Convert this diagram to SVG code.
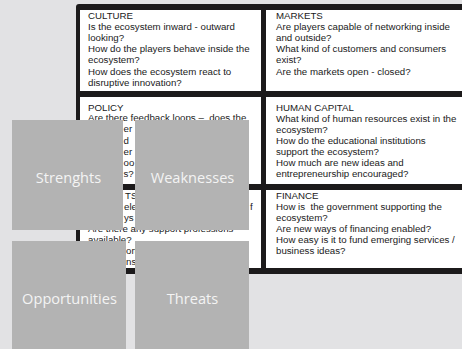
<svg xmlns="http://www.w3.org/2000/svg" width="462" height="349" viewBox="0 0 462 349">
<style>
.t{font-family:"Liberation Sans",Arial,sans-serif;font-size:9.7px;fill:#1a1a1a}
.cell{fill:#ffffff}
.sq{fill:#b3b3b3}
.lbl{font-family:"Open Sans","Noto Sans",sans-serif;font-size:14.6px;fill:#f4f4f4;text-anchor:middle}
</style>
<rect x="0" y="0" width="462" height="349" fill="#e2e2e4"/>
<rect x="76" y="4" width="400" height="270" rx="3" fill="#1c1a1b"/>
<g id="culture">
<rect class="cell" x="80" y="10" width="181" height="81"/>
<text class="t" x="88" y="19">CULTURE</text>
<text class="t" x="88" y="30.1">Is the ecosystem inward - outward</text>
<text class="t" x="88" y="41.2">looking?</text>
<text class="t" x="88" y="52.3">How do the players behave inside the</text>
<text class="t" x="88" y="63.4">ecosystem?</text>
<text class="t" x="88" y="74.5">How does the ecosystem react to</text>
<text class="t" x="88" y="85.6">disruptive innovation?</text>
</g>
<g id="markets">
<rect class="cell" x="266" y="10" width="196" height="81"/>
<text class="t" x="276" y="19">MARKETS</text>
<text class="t" x="276" y="30.1">Are players capable of networking inside</text>
<text class="t" x="276" y="41.2">and outside?</text>
<text class="t" x="276" y="52.3">What kind of customers and consumers</text>
<text class="t" x="276" y="63.4">exist?</text>
<text class="t" x="276" y="74.5">Are the markets open - closed?</text>
</g>
<g id="policy">
<rect class="cell" x="80" y="97" width="181" height="87"/>
<text class="t" x="88" y="110.7">POLICY</text>
<text class="t" x="88" y="121.3">Are there feedback loops –&#160; does the</text>
<text class="t" x="123.5" y="132.4">er</text>
<text class="t" x="123.5" y="143.5">d</text>
<text class="t" x="123.5" y="154.6">er</text>
<text class="t" x="123.5" y="165.7">oo</text>
<text class="t" x="123.5" y="176.8">s?</text>
</g>
<g id="human-capital">
<rect class="cell" x="266" y="97" width="196" height="87"/>
<text class="t" x="276" y="110.7">HUMAN CAPITAL</text>
<text class="t" x="276" y="121.8">What kind of human resources exist in the</text>
<text class="t" x="276" y="132.9">ecosystem?</text>
<text class="t" x="276" y="144">How do the educational institutions</text>
<text class="t" x="276" y="155.1">support the ecosystem?</text>
<text class="t" x="276" y="166.2">How much are new ideas and</text>
<text class="t" x="276" y="177.3">entrepreneurship encouraged?</text>
</g>
<g id="support">
<rect class="cell" x="80" y="190" width="181" height="78"/>
<text class="t" x="125" y="199">TS</text>
<text class="t" x="124" y="210">ele</text>
<text class="t" x="250" y="210">f</text>
<text class="t" x="124" y="221">ys</text>
<text class="t" x="88" y="232">Are there any support professions</text>
<text class="t" x="88" y="243">available?</text>
<text class="t" x="126" y="254">ort</text>
<text class="t" x="126" y="265">ns</text>
</g>
<g id="finance">
<rect class="cell" x="266" y="190" width="196" height="78"/>
<text class="t" x="276" y="198.5">FINANCE</text>
<text class="t" x="276" y="209.6">How is&#160; the government supporting the</text>
<text class="t" x="276" y="220.7">ecosystem?</text>
<text class="t" x="276" y="231.8">Are new ways of financing enabled?</text>
<text class="t" x="276" y="242.9">How easy is it to fund emerging services /</text>
<text class="t" x="276" y="254">business ideas?</text>
</g>
<g id="strengths">
<rect class="sq" x="12" y="120" width="111" height="110"/>
<text class="lbl" x="68.5" y="182.5">Strenghts</text>
</g>
<g id="weaknesses">
<rect class="sq" x="135" y="120" width="114" height="110"/>
<text class="lbl" x="192.5" y="182.5">Weaknesses</text>
</g>
<g id="opportunities">
<rect class="sq" x="12" y="241" width="114" height="108"/>
<text class="lbl" x="69.5" y="303.5">Opportunities</text>
</g>
<g id="threats">
<rect class="sq" x="135" y="241" width="114" height="108"/>
<text class="lbl" x="192.5" y="303.5">Threats</text>
</g>
<g id="connectors"/>
</svg>
